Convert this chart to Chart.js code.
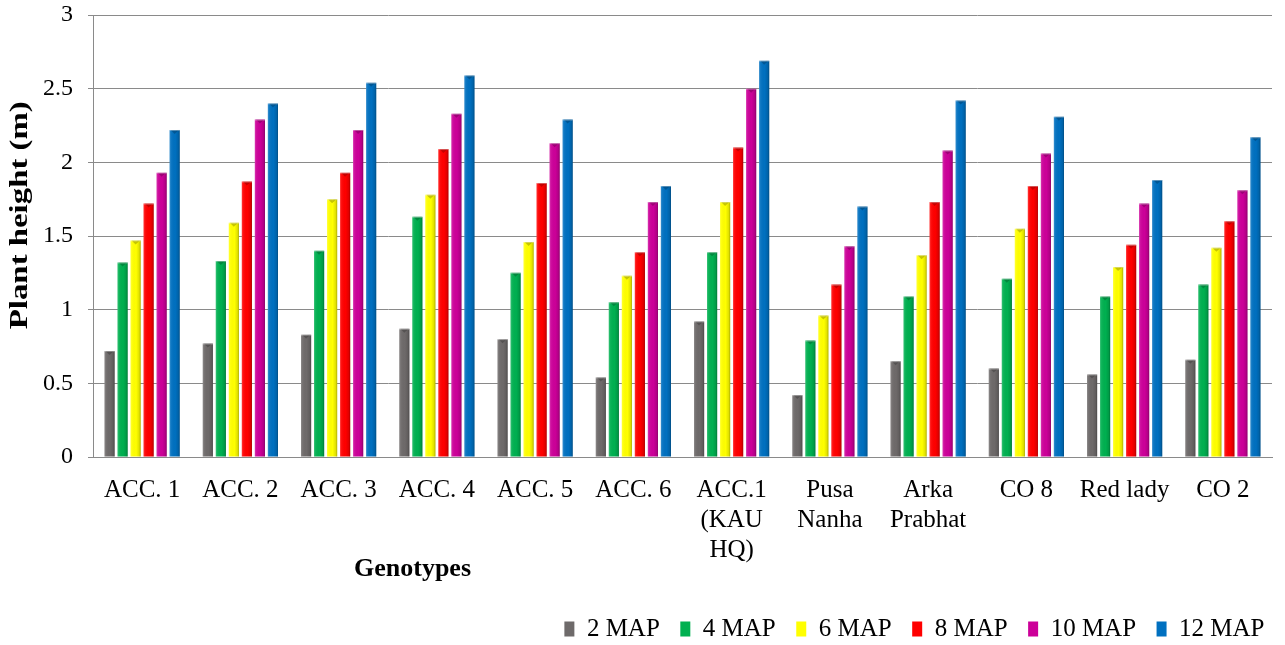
<!DOCTYPE html>
<html>
<head>
<meta charset="utf-8">
<script src="https://cdn.jsdelivr.net/npm/chart.js@4/dist/chart.umd.min.js"></script>
<style>
  html, body { margin: 0; padding: 0; background: #ffffff; }
  #wrap { width: 1285px; height: 645px; position: relative; }
</style>
</head>
<body>
<div id="wrap"><canvas id="chart" width="1285" height="645"></canvas></div>
<script>
// Genotypes on the category axis (multi-line names as arrays)
const genotypes = [
  'ACC. 1', 'ACC. 2', 'ACC. 3', 'ACC. 4', 'ACC. 5', 'ACC. 6',
  ['ACC.1', '(KAU', 'HQ)'], ['Pusa', 'Nanha'], ['Arka', 'Prabhat'],
  'CO 8', 'Red lady', 'CO 2'
];

// Plant height (m) at months after planting
const map2  = [0.72, 0.77, 0.83, 0.87, 0.80, 0.54, 0.92, 0.42, 0.65, 0.60, 0.56, 0.66];
const map4  = [1.32, 1.33, 1.40, 1.63, 1.25, 1.05, 1.39, 0.79, 1.09, 1.21, 1.09, 1.17];
const map6  = [1.47, 1.59, 1.75, 1.78, 1.46, 1.23, 1.73, 0.96, 1.37, 1.55, 1.29, 1.42];
const map8  = [1.72, 1.87, 1.93, 2.09, 1.86, 1.39, 2.10, 1.17, 1.73, 1.84, 1.44, 1.60];
const map10 = [1.93, 2.29, 2.22, 2.33, 2.13, 1.73, 2.50, 1.43, 2.08, 2.06, 1.72, 1.81];
const map12 = [2.22, 2.40, 2.54, 2.59, 2.29, 1.84, 2.69, 1.70, 2.42, 2.31, 1.88, 2.17];

const seriesNames = ['2 MAP', '4 MAP', '6 MAP', '8 MAP', '10 MAP', '12 MAP'];
const seriesColors = ['#6e6a6a', '#00b050', '#ffff00', '#ff0000', '#cc0099', '#0070c0'];

// Value axis tick labels
const yTickValues = [0, 0.5, 1, 1.5, 2, 2.5, 3];
const yTickLabels = ['0', '0.5', '1', '1.5', '2', '2.5', '3'];

const SERIF = "'Liberation Serif', 'Times New Roman', serif";
const GRID = '#8a8a8a';

// Cylinder-like shading on each bar plus a small bevel at its top
const barShading = {
  id: 'barShading',
  afterDatasetsDraw(chart) {
    const ctx = chart.ctx;
    chart.data.datasets.forEach((ds, i) => {
      const meta = chart.getDatasetMeta(i);
      if (meta.hidden) return;
      meta.data.forEach(bar => {
        const w = bar.width, left = bar.x - w / 2, top = bar.y, h = bar.base - bar.y;
        if (h <= 0) return;
        ctx.save();
        const g = ctx.createLinearGradient(left, 0, left + w, 0);
        g.addColorStop(0, 'rgba(255,255,255,0.22)');
        g.addColorStop(0.15, 'rgba(255,255,255,0.06)');
        g.addColorStop(0.55, 'rgba(0,0,0,0)');
        g.addColorStop(0.85, 'rgba(0,0,0,0.12)');
        g.addColorStop(1, 'rgba(0,0,0,0.32)');
        ctx.fillStyle = g;
        ctx.fillRect(left, top, w, h);
        // bevel at top
        ctx.beginPath();
        ctx.moveTo(left + 1, top);
        ctx.lineTo(left + w - 1, top);
        ctx.lineTo(bar.x, top + 4);
        ctx.closePath();
        ctx.fillStyle = 'rgba(0,0,0,0.22)';
        ctx.fill();
        ctx.fillStyle = 'rgba(255,255,255,0.35)';
        ctx.fillRect(left, top, w, 1);
        ctx.restore();
      });
    });
  }
};

// Axis titles
const axisTitles = {
  id: 'axisTitles',
  afterDraw(chart) {
    const ctx = chart.ctx;
    const area = chart.chartArea;
    ctx.save();
    ctx.fillStyle = '#000000';
    ctx.textAlign = 'center';
    ctx.textBaseline = 'middle';
    // value axis title, rotated
    ctx.font = 'bold 25px ' + SERIF;
    const yTitle = 'Plant height (m)';
    const tw = ctx.measureText(yTitle).width;
    ctx.translate(21, area.top + (area.bottom - area.top) * 0.453);
    ctx.rotate(-Math.PI / 2);
    ctx.scale(228 / tw, 1);
    ctx.fillText(yTitle, 0, 0);
    ctx.restore();

    ctx.save();
    ctx.fillStyle = '#000000';
    ctx.textAlign = 'center';
    ctx.textBaseline = 'middle';
    ctx.font = 'bold 26px ' + SERIF;
    ctx.fillText('Genotypes', area.left + (area.right - area.left) * 0.271, area.bottom + 112);
    ctx.restore();
  }
};

const seriesData = [map2, map4, map6, map8, map10, map12];

new Chart(document.getElementById('chart'), {
  type: 'bar',
  data: {
    labels: genotypes,
    datasets: seriesData.map((values, i) => ({
      label: seriesNames[i],
      data: values,
      backgroundColor: seriesColors[i],
      borderWidth: 0,
      barPercentage: 0.78,
      categoryPercentage: 0.795
    }))
  },
  options: {
    responsive: false,
    animation: false,
    layout: { padding: { left: 0, right: 0, top: 15, bottom: -6.5 } },
    plugins: {
      legend: {
        position: 'bottom',
        align: 'end',
        labels: {
          color: '#000000',
          font: { family: SERIF, size: 25 },
          boxWidth: 10,
          boxHeight: 15,
          padding: 20.5
        }
      },
      tooltip: { enabled: false }
    },
    scales: {
      x: {
        grid: { display: false, drawTicks: false },
        border: { display: true, color: GRID, width: 1 },
        ticks: {
          color: '#000000',
          font: { family: SERIF, size: 25, lineHeight: 1.2 },
          padding: 18,
          maxRotation: 0,
          autoSkip: false
        },
        afterFit(s) { s.height = 139; s.paddingLeft = 0; s.paddingRight = 0; }
      },
      y: {
        min: 0,
        max: 3,
        afterBuildTicks(s) { s.ticks = yTickValues.map(v => ({ value: v })); },
        grid: { color: GRID, lineWidth: 1, drawTicks: true, tickLength: 5, tickColor: GRID },
        border: { display: true, color: GRID, width: 1 },
        ticks: {
          color: '#000000',
          font: { family: SERIF, size: 24 },
          padding: 15,
          callback(value) {
            const k = yTickValues.indexOf(value);
            return k >= 0 ? yTickLabels[k] : '';
          }
        },
        afterFit(s) { s.width = 93; s.paddingTop = 0; s.paddingBottom = 0; }
      },
      yRight: {
        type: 'linear',
        position: 'right',
        display: true,
        grid: { display: false, drawTicks: false },
        border: { display: false },
        ticks: { display: false },
        afterFit(s) { s.width = 13; s.paddingTop = 0; s.paddingBottom = 0; }
      }
    }
  },
  plugins: [barShading, axisTitles]
});
</script>
</body>
</html>
